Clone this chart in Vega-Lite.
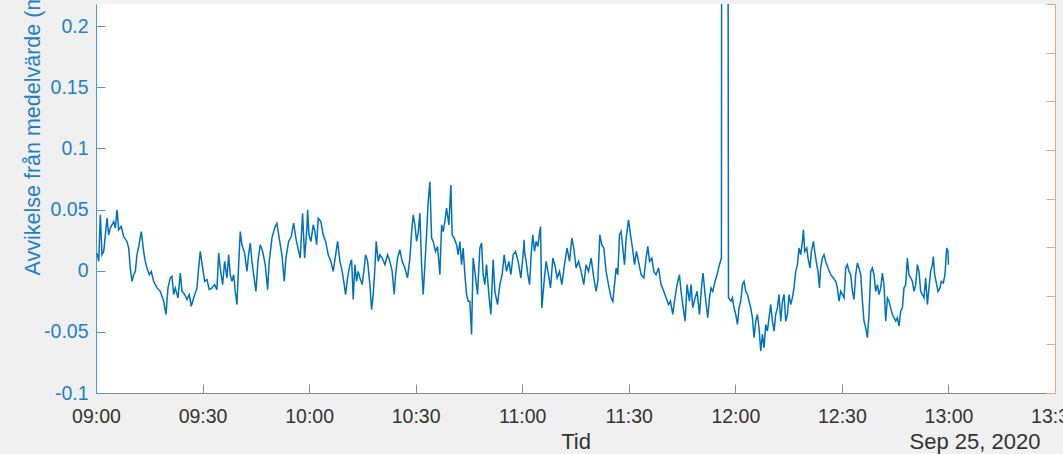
{
"$schema": "https://vega.github.io/schema/vega-lite/v6.json",
"width": 959,
"height": 389,
"autosize": "none",
"padding": {"left": 96, "top": 4, "right": 8, "bottom": 61},
"background": "#f0f0f0",
"config": {"font": "Liberation Sans", "view": {"fill": "white", "stroke": null}},
"data": {"format": {"parse": {"t": "date:'%H:%M:%S'"}}, "values": [
{"t":"09:00:17","v":0.0144},{"t":"09:00:46","v":0.0076},{"t":"09:01:13","v":0.0456},{"t":"09:01:41","v":0.0130},{"t":"09:02:10","v":0.0157},{"t":"09:03:06","v":0.0429},{"t":"09:03:34","v":0.0293},{"t":"09:04:01","v":0.0348},{"t":"09:04:59","v":0.0401},{"t":"09:05:26","v":0.0348},{"t":"09:05:55","v":0.0497},{"t":"09:06:23","v":0.0334},{"t":"09:07:07","v":0.0361},{"t":"09:07:48","v":0.0279},{"t":"09:08:43","v":0.0239},{"t":"09:09:12","v":0.0185},{"t":"09:09:39","v":0.0022},{"t":"09:10:08","v":-0.0087},{"t":"09:10:37","v":-0.0033},{"t":"09:11:04","v":-0.0006},{"t":"09:11:32","v":0.0130},{"t":"09:12:01","v":0.0198},{"t":"09:12:45","v":0.0320},{"t":"09:13:25","v":0.0157},{"t":"09:13:52","v":0.0076},{"t":"09:14:21","v":0.0022},{"t":"09:15:00","v":-0.0033},{"t":"09:15:34","v":-0.0006},{"t":"09:16:14","v":-0.0087},{"t":"09:17:10","v":-0.0141},{"t":"09:18:06","v":-0.0169},{"t":"09:19:03","v":-0.0250},{"t":"09:19:42","v":-0.0358},{"t":"09:20:16","v":-0.0141},{"t":"09:20:55","v":-0.0059},{"t":"09:21:23","v":-0.0046},{"t":"09:21:52","v":-0.0195},{"t":"09:22:19","v":-0.0141},{"t":"09:23:05","v":-0.0222},{"t":"09:23:44","v":-0.0019},{"t":"09:24:12","v":-0.0169},{"t":"09:24:58","v":-0.0195},{"t":"09:25:37","v":-0.0236},{"t":"09:26:15","v":-0.0195},{"t":"09:26:49","v":-0.0291},{"t":"09:27:30","v":-0.0222},{"t":"09:28:26","v":-0.0141},{"t":"09:28:54","v":0.0022},{"t":"09:29:21","v":0.0157},{"t":"09:30:02","v":0.0022},{"t":"09:30:35","v":-0.0087},{"t":"09:31:14","v":-0.0073},{"t":"09:31:53","v":-0.0155},{"t":"09:32:39","v":-0.0141},{"t":"09:33:24","v":-0.0114},{"t":"09:34:03","v":-0.0155},{"t":"09:34:32","v":0.0144},{"t":"09:34:59","v":0.0022},{"t":"09:35:39","v":-0.0114},{"t":"09:36:13","v":0.0076},{"t":"09:36:52","v":-0.0059},{"t":"09:37:21","v":0.0130},{"t":"09:37:48","v":-0.0033},{"t":"09:38:17","v":-0.0087},{"t":"09:38:45","v":-0.0033},{"t":"09:39:12","v":-0.0169},{"t":"09:39:41","v":-0.0277},{"t":"09:40:10","v":0.0049},{"t":"09:40:37","v":0.0320},{"t":"09:41:05","v":0.0212},{"t":"09:41:51","v":0.0144},{"t":"09:42:30","v":-0.0006},{"t":"09:42:58","v":0.0130},{"t":"09:43:26","v":0.0226},{"t":"09:43:54","v":0.0076},{"t":"09:44:23","v":-0.0033},{"t":"09:45:02","v":-0.0169},{"t":"09:45:36","v":0.0076},{"t":"09:46:14","v":0.0212},{"t":"09:46:55","v":0.0157},{"t":"09:47:39","v":0.0049},{"t":"09:48:19","v":-0.0155},{"t":"09:48:46","v":0.0076},{"t":"09:49:32","v":0.0266},{"t":"09:50:18","v":0.0348},{"t":"09:50:56","v":0.0388},{"t":"09:51:35","v":0.0266},{"t":"09:52:21","v":0.0130},{"t":"09:53:00","v":-0.0087},{"t":"09:53:28","v":0.0103},{"t":"09:54:14","v":0.0239},{"t":"09:54:58","v":0.0279},{"t":"09:55:38","v":0.0388},{"t":"09:56:17","v":0.0266},{"t":"09:56:51","v":0.0185},{"t":"09:57:30","v":0.0103},{"t":"09:58:10","v":0.0470},{"t":"09:58:44","v":0.0103},{"t":"09:59:23","v":0.0348},{"t":"09:59:35","v":0.0497},{"t":"09:59:57","v":0.0293},
{"t":"10:00:31","v":0.0239},{"t":"10:01:09","v":0.0375},{"t":"10:01:38","v":0.0320},{"t":"10:02:07","v":0.0212},{"t":"10:02:34","v":0.0429},{"t":"10:03:19","v":0.0401},{"t":"10:03:58","v":0.0293},{"t":"10:04:39","v":0.0239},{"t":"10:05:23","v":0.0130},{"t":"10:06:08","v":0.0076},{"t":"10:06:47","v":-0.0006},{"t":"10:07:28","v":0.0130},{"t":"10:08:01","v":0.0239},{"t":"10:08:40","v":0.0076},{"t":"10:09:19","v":-0.0006},{"t":"10:09:53","v":-0.0114},{"t":"10:10:16","v":-0.0195},{"t":"10:10:50","v":-0.0059},{"t":"10:11:29","v":0.0049},{"t":"10:11:58","v":0.0090},{"t":"10:12:25","v":-0.0236},{"t":"10:12:53","v":0.0049},{"t":"10:13:22","v":-0.0087},{"t":"10:13:49","v":-0.0006},{"t":"10:14:18","v":-0.0059},{"t":"10:14:57","v":-0.0114},{"t":"10:15:31","v":0.0022},{"t":"10:15:54","v":0.0130},{"t":"10:16:28","v":0.0076},{"t":"10:17:07","v":-0.0114},{"t":"10:17:35","v":-0.0318},{"t":"10:18:03","v":-0.0195},{"t":"10:18:31","v":0.0022},{"t":"10:18:53","v":0.0239},{"t":"10:19:27","v":0.0076},{"t":"10:19:56","v":0.0130},{"t":"10:20:35","v":0.0103},{"t":"10:21:20","v":0.0049},{"t":"10:22:06","v":0.0130},{"t":"10:22:44","v":0.0076},{"t":"10:23:23","v":-0.0006},{"t":"10:23:57","v":-0.0195},{"t":"10:24:21","v":-0.0033},{"t":"10:24:54","v":0.0103},{"t":"10:25:33","v":0.0171},{"t":"10:26:12","v":0.0076},{"t":"10:26:58","v":0.0022},{"t":"10:27:43","v":-0.0059},{"t":"10:28:22","v":0.0103},{"t":"10:28:51","v":0.0307},{"t":"10:29:18","v":0.0456},{"t":"10:29:47","v":0.0375},{"t":"10:30:15","v":0.0239},{"t":"10:30:42","v":0.0307},{"t":"10:31:11","v":0.0470},{"t":"10:31:40","v":0.0049},{"t":"10:32:07","v":-0.0195},{"t":"10:32:36","v":0.0049},{"t":"10:33:04","v":0.0293},{"t":"10:33:31","v":0.0564},{"t":"10:34:00","v":0.0727},{"t":"10:34:29","v":0.0266},{"t":"10:34:56","v":0.0239},{"t":"10:35:36","v":0.0157},{"t":"10:36:10","v":0.0198},{"t":"10:36:49","v":-0.0033},{"t":"10:37:18","v":0.0375},{"t":"10:37:45","v":0.0320},{"t":"10:38:13","v":0.0401},{"t":"10:38:42","v":0.0511},{"t":"10:39:21","v":0.0375},{"t":"10:39:55","v":0.0700},{"t":"10:40:17","v":0.0293},{"t":"10:40:50","v":0.0266},{"t":"10:41:31","v":0.0212},{"t":"10:41:58","v":0.0130},{"t":"10:42:27","v":0.0239},{"t":"10:42:55","v":0.0049},{"t":"10:43:22","v":0.0185},{"t":"10:43:51","v":-0.0033},{"t":"10:44:20","v":-0.0195},{"t":"10:44:47","v":-0.0250},{"t":"10:45:15","v":-0.0250},{"t":"10:45:44","v":-0.0521},{"t":"10:46:11","v":0.0103},{"t":"10:46:40","v":-0.0006},{"t":"10:47:25","v":-0.0195},{"t":"10:48:04","v":0.0185},{"t":"10:48:33","v":0.0226},{"t":"10:49:00","v":-0.0033},{"t":"10:49:29","v":-0.0114},{"t":"10:49:57","v":0.0049},{"t":"10:50:36","v":-0.0195},{"t":"10:51:10","v":-0.0358},{"t":"10:51:49","v":0.0090},{"t":"10:52:18","v":-0.0169},{"t":"10:53:03","v":-0.0277},{"t":"10:53:42","v":-0.0114},{"t":"10:54:21","v":-0.0033},{"t":"10:54:55","v":0.0130},{"t":"10:55:35","v":-0.0006},{"t":"10:56:14","v":0.0076},{"t":"10:56:48","v":-0.0033},{"t":"10:57:27","v":0.0130},{"t":"10:58:07","v":0.0157},{"t":"10:58:51","v":0.0076},{"t":"10:59:37","v":-0.0059},
{"t":"11:00:15","v":0.0130},{"t":"11:00:32","v":0.0252},{"t":"11:00:39","v":0.0157},{"t":"11:01:06","v":0.0076},{"t":"11:01:35","v":-0.0033},{"t":"11:02:04","v":-0.0114},{"t":"11:02:31","v":0.0130},{"t":"11:02:59","v":0.0293},{"t":"11:03:28","v":0.0157},{"t":"11:03:55","v":0.0239},{"t":"11:04:24","v":0.0198},{"t":"11:04:52","v":0.0307},{"t":"11:05:09","v":0.0361},{"t":"11:05:31","v":-0.0304},{"t":"11:06:05","v":-0.0114},{"t":"11:06:44","v":0.0076},{"t":"11:07:24","v":-0.0033},{"t":"11:07:58","v":-0.0141},{"t":"11:08:37","v":0.0103},{"t":"11:09:16","v":0.0035},{"t":"11:09:50","v":-0.0059},{"t":"11:10:30","v":-0.0006},{"t":"11:11:09","v":-0.0114},{"t":"11:11:54","v":0.0049},{"t":"11:12:38","v":0.0185},{"t":"11:13:19","v":0.0076},{"t":"11:13:58","v":0.0266},{"t":"11:14:31","v":0.0185},{"t":"11:15:10","v":0.0022},{"t":"11:15:51","v":0.0076},{"t":"11:16:35","v":-0.0006},{"t":"11:17:20","v":-0.0114},{"t":"11:17:59","v":0.0049},{"t":"11:18:40","v":-0.0006},{"t":"11:19:24","v":0.0103},{"t":"11:20:09","v":-0.0059},{"t":"11:20:48","v":-0.0169},{"t":"11:21:17","v":-0.0087},{"t":"11:21:51","v":0.0293},{"t":"11:22:24","v":0.0212},{"t":"11:22:58","v":0.0185},{"t":"11:23:37","v":-0.0006},{"t":"11:24:17","v":-0.0114},{"t":"11:25:01","v":-0.0222},{"t":"11:25:30","v":-0.0250},{"t":"11:25:59","v":-0.0114},{"t":"11:26:26","v":0.0022},{"t":"11:26:55","v":-0.0033},{"t":"11:27:23","v":0.0293},{"t":"11:27:50","v":0.0320},{"t":"11:28:19","v":0.0185},{"t":"11:28:48","v":0.0049},{"t":"11:29:15","v":0.0266},{"t":"11:29:55","v":0.0415},{"t":"11:30:29","v":0.0293},{"t":"11:31:03","v":0.0185},{"t":"11:31:37","v":0.0049},{"t":"11:32:10","v":0.0157},{"t":"11:32:44","v":0.0076},{"t":"11:33:28","v":-0.0033},{"t":"11:34:14","v":-0.0059},{"t":"11:34:52","v":0.0103},{"t":"11:35:21","v":0.0198},{"t":"11:35:50","v":0.0076},{"t":"11:36:29","v":0.0103},{"t":"11:37:02","v":-0.0006},{"t":"11:37:41","v":-0.0033},{"t":"11:38:22","v":0.0022},{"t":"11:39:06","v":-0.0114},{"t":"11:39:51","v":-0.0169},{"t":"11:40:30","v":-0.0222},{"t":"11:41:11","v":-0.0277},{"t":"11:41:44","v":-0.0250},{"t":"11:42:23","v":-0.0358},{"t":"11:42:52","v":-0.0250},{"t":"11:43:36","v":-0.0114},{"t":"11:44:16","v":-0.0033},{"t":"11:44:43","v":-0.0169},{"t":"11:45:12","v":-0.0277},{"t":"11:45:51","v":-0.0413},{"t":"11:46:25","v":-0.0114},{"t":"11:47:05","v":-0.0250},{"t":"11:47:32","v":-0.0114},{"t":"11:48:01","v":-0.0304},{"t":"11:48:40","v":-0.0222},{"t":"11:49:14","v":-0.0169},{"t":"11:49:54","v":-0.0358},{"t":"11:50:33","v":-0.0114},{"t":"11:50:55","v":-0.0019},{"t":"11:51:29","v":-0.0195},{"t":"11:52:14","v":-0.0385},{"t":"11:52:43","v":-0.0222},{"t":"11:53:10","v":-0.0141},{"t":"11:53:39","v":-0.0169},{"t":"11:54:18","v":-0.0087},{"t":"11:54:51","v":-0.0033},{"t":"11:55:32","v":0.0049},{"t":"11:56:05","v":0.0103},{"t":"11:56:18","v":1.0},{"t":"11:57:40","v":1.0},{"t":"11:58:04","v":-0.0222},{"t":"11:58:48","v":-0.0250},{"t":"11:59:11","v":-0.0222},{"t":"11:59:38","v":-0.0304},
{"t":"12:00:07","v":-0.0358},{"t":"12:00:36","v":-0.0440},{"t":"12:01:03","v":-0.0304},{"t":"12:01:31","v":-0.0250},{"t":"12:02:00","v":-0.0114},{"t":"12:02:27","v":-0.0087},{"t":"12:02:56","v":-0.0169},{"t":"12:03:25","v":-0.0195},{"t":"12:03:52","v":-0.0250},{"t":"12:04:20","v":-0.0304},{"t":"12:04:49","v":-0.0385},{"t":"12:05:16","v":-0.0548},{"t":"12:05:45","v":-0.0413},{"t":"12:06:13","v":-0.0358},{"t":"12:06:40","v":-0.0467},{"t":"12:07:09","v":-0.0657},{"t":"12:07:38","v":-0.0521},{"t":"12:08:05","v":-0.0629},{"t":"12:08:34","v":-0.0440},{"t":"12:09:02","v":-0.0494},{"t":"12:09:29","v":-0.0385},{"t":"12:09:58","v":-0.0277},{"t":"12:10:27","v":-0.0413},{"t":"12:10:54","v":-0.0494},{"t":"12:11:22","v":-0.0358},{"t":"12:11:51","v":-0.0304},{"t":"12:12:18","v":-0.0195},{"t":"12:12:47","v":-0.0413},{"t":"12:13:16","v":-0.0250},{"t":"12:13:43","v":-0.0195},{"t":"12:14:11","v":-0.0413},{"t":"12:14:40","v":-0.0358},{"t":"12:15:07","v":-0.0195},{"t":"12:15:36","v":-0.0277},{"t":"12:16:04","v":-0.0222},{"t":"12:16:31","v":-0.0141},{"t":"12:17:00","v":-0.0006},{"t":"12:17:29","v":0.0049},{"t":"12:17:56","v":0.0185},{"t":"12:18:25","v":0.0130},{"t":"12:18:53","v":0.0239},{"t":"12:19:10","v":0.0334},{"t":"12:19:32","v":0.0157},{"t":"12:20:06","v":0.0185},{"t":"12:20:28","v":0.0103},{"t":"12:21:02","v":0.0022},{"t":"12:21:25","v":0.0157},{"t":"12:21:59","v":0.0239},{"t":"12:22:21","v":0.0157},{"t":"12:22:55","v":0.0049},{"t":"12:23:17","v":-0.0006},{"t":"12:23:40","v":-0.0141},{"t":"12:24:02","v":0.0022},{"t":"12:24:31","v":0.0103},{"t":"12:24:58","v":0.0130},{"t":"12:25:27","v":0.0076},{"t":"12:26:06","v":0.0022},{"t":"12:26:51","v":-0.0033},{"t":"12:27:37","v":-0.0059},{"t":"12:28:16","v":-0.0087},{"t":"12:28:44","v":-0.0141},{"t":"12:29:11","v":-0.0250},{"t":"12:29:40","v":-0.0169},{"t":"12:30:09","v":-0.0195},{"t":"12:30:36","v":-0.0222},{"t":"12:31:05","v":0.0022},{"t":"12:31:33","v":0.0049},{"t":"12:32:00","v":-0.0006},{"t":"12:32:29","v":-0.0033},{"t":"12:32:58","v":-0.0169},{"t":"12:33:25","v":-0.0236},{"t":"12:33:53","v":-0.0033},{"t":"12:34:22","v":0.0063},{"t":"12:34:49","v":0.0022},{"t":"12:35:18","v":-0.0033},{"t":"12:35:47","v":-0.0250},{"t":"12:36:14","v":-0.0413},{"t":"12:36:42","v":-0.0467},{"t":"12:37:11","v":-0.0548},{"t":"12:37:38","v":-0.0358},{"t":"12:38:07","v":-0.0006},{"t":"12:38:35","v":0.0022},{"t":"12:39:02","v":-0.0033},{"t":"12:39:31","v":-0.0169},{"t":"12:40:00","v":-0.0114},{"t":"12:40:27","v":-0.0195},{"t":"12:40:56","v":-0.0141},{"t":"12:41:24","v":-0.0019},{"t":"12:41:51","v":-0.0114},{"t":"12:42:20","v":-0.0413},{"t":"12:42:49","v":-0.0222},{"t":"12:43:16","v":-0.0250},{"t":"12:43:44","v":-0.0304},{"t":"12:44:13","v":-0.0358},{"t":"12:44:40","v":-0.0385},{"t":"12:45:09","v":-0.0413},{"t":"12:45:38","v":-0.0385},{"t":"12:46:05","v":-0.0454},{"t":"12:46:33","v":-0.0331},{"t":"12:47:02","v":-0.0304},{"t":"12:47:29","v":-0.0141},{"t":"12:47:58","v":-0.0114},{"t":"12:48:26","v":0.0103},{"t":"12:48:53","v":-0.0033},{"t":"12:49:22","v":-0.0059},{"t":"12:49:51","v":-0.0087},{"t":"12:50:18","v":-0.0169},{"t":"12:50:47","v":-0.0114},{"t":"12:51:15","v":0.0049},{"t":"12:51:42","v":-0.0006},{"t":"12:52:11","v":-0.0169},{"t":"12:52:40","v":-0.0195},{"t":"12:53:07","v":-0.0222},{"t":"12:53:35","v":-0.0059},{"t":"12:54:04","v":-0.0277},{"t":"12:54:31","v":-0.0141},{"t":"12:55:00","v":-0.0006},{"t":"12:55:29","v":0.0049},{"t":"12:55:45","v":0.0116},{"t":"12:56:07","v":-0.0033},{"t":"12:56:41","v":-0.0114},{"t":"12:57:03","v":-0.0169},{"t":"12:57:37","v":-0.0141},{"t":"12:58:01","v":-0.0087},{"t":"12:58:34","v":-0.0100},{"t":"12:59:01","v":-0.0033},{"t":"12:59:30","v":0.0185},{"t":"12:59:52","v":0.0157},{"t":"13:00:00","v":0.0049}
]},
"layer": [
{
"mark": {"type": "line", "color": "#0072BD", "strokeWidth": 1.5, "clip": true},
"encoding": {
"x": {"field": "t", "type": "temporal",
"scale": {"domain": [{"year": 1900, "month": 1, "date": 1, "hours": 9}, {"year": 1900, "month": 1, "date": 1, "hours": 13, "minutes": 30}]},
"axis": {"orient": "bottom", "format": "%H:%M", "grid": false, "labelFlush": false, "labelOverlap": false,
"values": [{"year": 1900, "month": 1, "date": 1, "hours": 9}, {"year": 1900, "month": 1, "date": 1, "hours": 9, "minutes": 30}, {"year": 1900, "month": 1, "date": 1, "hours": 10}, {"year": 1900, "month": 1, "date": 1, "hours": 10, "minutes": 30}, {"year": 1900, "month": 1, "date": 1, "hours": 11}, {"year": 1900, "month": 1, "date": 1, "hours": 11, "minutes": 30}, {"year": 1900, "month": 1, "date": 1, "hours": 12}, {"year": 1900, "month": 1, "date": 1, "hours": 12, "minutes": 30}, {"year": 1900, "month": 1, "date": 1, "hours": 13}, {"year": 1900, "month": 1, "date": 1, "hours": 13, "minutes": 30}],
"domainColor": "#8c8c8c", "tickColor": "#8c8c8c", "tickSize": -9, "labelPadding": 23,
"labelFontSize": 19.5, "labelColor": "#333333",
"title": "Tid", "titleFontSize": 22, "titleFontWeight": "normal", "titleColor": "#333333", "titleY": 55, "titleBaseline": "alphabetic"}},
"y": {"field": "v", "type": "quantitative",
"scale": {"domain": [-0.1, 0.218], "nice": false, "zero": false},
"axis": {"orient": "left", "grid": false, "values": [-0.1, -0.05, 0, 0.05, 0.1, 0.15, 0.2],
"labelExpr": "datum.value < 0 ? '-' + format(-datum.value, '~g') : format(datum.value, '~g')",
"domainColor": "#4b97d3", "tickColor": "#4b97d3", "tickSize": -9, "labelPadding": 17,
"labelFontSize": 19.5, "labelColor": "#1f80c8",
"title": "Avvikelse från medelvärde (m)", "titleFontSize": 21.5, "titleFontWeight": "normal", "titleColor": "#1f80c8",
"titleX": -57, "titleY": 126, "titleAngle": 270, "titleAlign": "center", "titleBaseline": "alphabetic"}}
}
},
{
"mark": {"type": "point", "opacity": 0},
"encoding": {
"x": {"field": "t", "type": "temporal",
"scale": {"domain": [{"year": 1900, "month": 1, "date": 1, "hours": 9}, {"year": 1900, "month": 1, "date": 1, "hours": 13, "minutes": 30}]},
"axis": {"orient": "bottom", "labels": false, "ticks": false, "domain": false, "grid": false,
"title": "Sep 25, 2020", "titleFontSize": 22, "titleFontWeight": "normal", "titleColor": "#333333",
"titleX": 944, "titleY": 55, "titleAlign": "right", "titleBaseline": "alphabetic"}},
"y": {"datum": 0, "type": "quantitative",
"scale": {"domain": [0, 8], "nice": false, "zero": false},
"axis": {"orient": "right", "grid": false, "title": null, "values": [0, 1, 2, 3, 4, 5, 6, 7, 8],
"domainColor": "#f0a282", "tickColor": "#f0a282", "tickSize": -9, "labelPadding": 17,
"labelFontSize": 19.5, "labelColor": "#D95319"}}
}
}
],
"resolve": {"scale": {"y": "independent"}, "axis": {"x": "independent", "y": "independent"}}
}
